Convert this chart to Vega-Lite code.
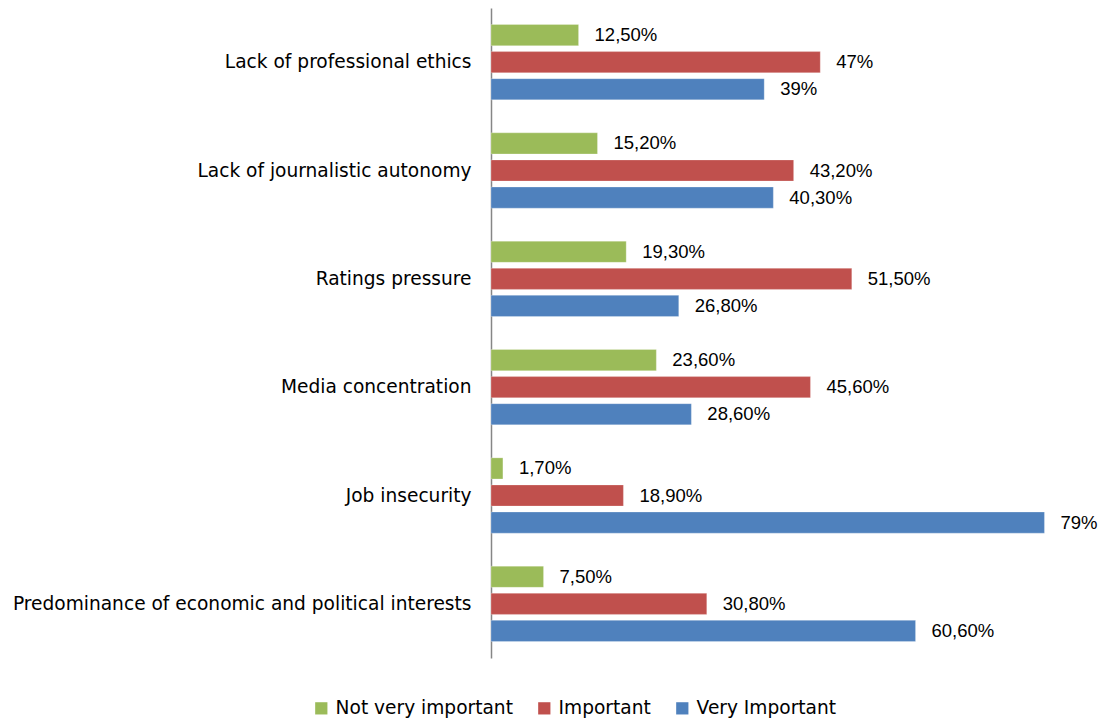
{
  "$schema": "https://vega.github.io/schema/vega-lite/v6.json",
  "autosize": {"type": "none"},
  "padding": {"left": 491, "top": 8, "right": 0, "bottom": 62},
  "width": 613,
  "height": 650,
  "background": "white",
  "data": {
    "values": [
      {"issue": "Lack of professional ethics", "level": "Not very important", "value": 12.5, "label": "12,50%"},
      {"issue": "Lack of professional ethics", "level": "Important", "value": 47, "label": "47%"},
      {"issue": "Lack of professional ethics", "level": "Very Important", "value": 39, "label": "39%"},
      {"issue": "Lack of journalistic autonomy", "level": "Not very important", "value": 15.2, "label": "15,20%"},
      {"issue": "Lack of journalistic autonomy", "level": "Important", "value": 43.2, "label": "43,20%"},
      {"issue": "Lack of journalistic autonomy", "level": "Very Important", "value": 40.3, "label": "40,30%"},
      {"issue": "Ratings pressure", "level": "Not very important", "value": 19.3, "label": "19,30%"},
      {"issue": "Ratings pressure", "level": "Important", "value": 51.5, "label": "51,50%"},
      {"issue": "Ratings pressure", "level": "Very Important", "value": 26.8, "label": "26,80%"},
      {"issue": "Media concentration", "level": "Not very important", "value": 23.6, "label": "23,60%"},
      {"issue": "Media concentration", "level": "Important", "value": 45.6, "label": "45,60%"},
      {"issue": "Media concentration", "level": "Very Important", "value": 28.6, "label": "28,60%"},
      {"issue": "Job insecurity", "level": "Not very important", "value": 1.7, "label": "1,70%"},
      {"issue": "Job insecurity", "level": "Important", "value": 18.9, "label": "18,90%"},
      {"issue": "Job insecurity", "level": "Very Important", "value": 79, "label": "79%"},
      {"issue": "Predominance of economic and political interests", "level": "Not very important", "value": 7.5, "label": "7,50%"},
      {"issue": "Predominance of economic and political interests", "level": "Important", "value": 30.8, "label": "30,80%"},
      {"issue": "Predominance of economic and political interests", "level": "Very Important", "value": 60.6, "label": "60,60%"}
    ]
  },
  "encoding": {
    "y": {
      "field": "issue", "type": "nominal", "sort": null,
      "scale": {"paddingInner": 0.25, "paddingOuter": 0.125},
      "axis": {
        "title": null, "ticks": false, "grid": false,
        "domainColor": "#868686", "domainWidth": 1.5,
        "labelFont": "DejaVu Sans", "labelFontSize": 18.6, "labelColor": "#000000",
        "labelPadding": 20, "labelLimit": 600
      }
    },
    "yOffset": {
      "field": "level", "type": "nominal",
      "sort": ["Not very important", "Important", "Very Important"],
      "scale": {"paddingInner": 0.22, "paddingOuter": 0.11}
    },
    "x": {
      "field": "value", "type": "quantitative",
      "scale": {"domain": [0, 87.5], "nice": false},
      "axis": null
    }
  },
  "layer": [
    {
      "mark": {"type": "bar", "stroke": "white", "strokeOpacity": 0.5, "strokeWidth": 0.5},
      "encoding": {
        "color": {
          "field": "level", "type": "nominal",
          "sort": ["Not very important", "Important", "Very Important"],
          "scale": {
            "domain": ["Not very important", "Important", "Very Important"],
            "range": ["#9BBB59", "#C0504D", "#4F81BD"]
          },
          "legend": {
            "title": null, "orient": "none", "direction": "horizontal",
            "legendX": -179, "legendY": 691,
            "symbolType": "square", "symbolSize": 150, "symbolStrokeWidth": 0,
            "labelFont": "DejaVu Sans", "labelFontSize": 18.6, "labelColor": "#000000",
            "labelOffset": 5, "columnPadding": 22, "labelLimit": 300
          }
        }
      }
    },
    {
      "mark": {"type": "text", "align": "left", "baseline": "middle", "dx": 16, "font": "Liberation Sans", "fontSize": 18.5, "color": "#000000"},
      "encoding": {
        "text": {"field": "label"}
      }
    }
  ],
  "config": {"view": {"stroke": null}}
}
